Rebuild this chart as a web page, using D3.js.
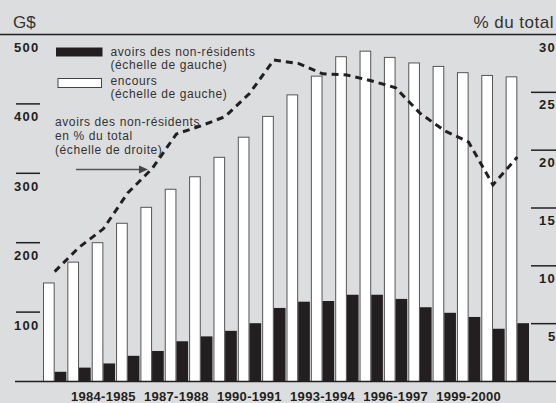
<!DOCTYPE html>
<html>
<head>
<meta charset="utf-8">
<script src="https://cdn.jsdelivr.net/npm/d3@7"></script>
<style>
  body { margin: 0; background: #dcdddf; }
  svg { display: block; font-family: "Liberation Sans", Arial, sans-serif; }
</style>
</head>
<body>
<div id="chart"></div>
<script>
const width = 556
const height = 403

// années financières
const annees = ["1982-1983", "1983-1984", "1984-1985", "1985-1986", "1986-1987", "1987-1988",
    "1988-1989", "1989-1990", "1990-1991", "1991-1992", "1992-1993", "1993-1994", "1994-1995",
    "1995-1996", "1996-1997", "1997-1998", "1998-1999", "1999-2000", "2000-2001", "2001-2002"]

// encours (G$, échelle de gauche)
const encours = [142, 172, 200, 228, 251, 277, 295, 323, 352, 382, 413, 440, 468, 476, 467, 459, 454, 445, 441, 439]

// avoirs des non-résidents (G$, échelle de gauche)
const avoirs = [14, 20, 26, 37, 44, 58, 65, 73, 84, 106, 115, 116, 125, 125, 119, 107, 99, 93, 76, 84]

// avoirs des non-résidents en % du total (échelle de droite)
const pourcentage = [9.5, 11.6, 13.2, 16.3, 18.4, 21.4, 22.1, 22.9, 24.9, 27.8, 27.5, 26.6, 26.5, 26.0, 25.4, 23.2, 21.7, 20.7, 17.0, 19.4]

const ticksGauche = [100, 200, 300, 400, 500]
const ticksDroite = [5, 10, 15, 20, 25, 30]
const etiquettesX = ["1984-1985", "1987-1988", "1990-1991", "1993-1994", "1996-1997", "1999-2000"]

const noir = "#231f20"

const svg = d3.select("#chart").append("svg")
    .attr("width", width)
    .attr("height", height)
    .style("background-color", "#dcdddf")

const x = d3.scaleBand()
    .domain(annees)
    .range([43, 530])
    .padding(0)

const sousX = d3.scaleBand()
    .domain(["encours", "avoirs"])
    .range([0, x.bandwidth() - 1])

const yGauche = d3.scaleLinear().domain([0, 500]).range([381.5, 34.5])
const yDroite = d3.scaleLinear().domain([0, 30]).range([381.5, 34.5])

// en-têtes
svg.append("text")
    .attr("x", 13)
    .attr("y", 28)
    .attr("font-size", 17)
    .attr("fill", "#333")
    .text("G$")

svg.append("text")
    .attr("x", 554)
    .attr("y", 28)
    .attr("text-anchor", "end")
    .attr("font-size", 17)
    .attr("letter-spacing", 0.5)
    .attr("fill", "#333")
    .text("% du total")

// ligne du haut (500 / 30)
svg.append("line")
    .attr("x1", 0).attr("x2", width)
    .attr("y1", yGauche(500)).attr("y2", yGauche(500))
    .attr("stroke", noir)
    .attr("stroke-width", 1.5)

// graduations de gauche
const gauche = svg.append("g").attr("id", "axe-gauche")
gauche.selectAll("line")
    .data(ticksGauche.filter(d => d < 500))
    .join("line")
    .attr("x1", 16).attr("x2", 40)
    .attr("y1", d => yGauche(d)).attr("y2", d => yGauche(d))
    .attr("stroke", noir)
    .attr("stroke-width", 1.5)
gauche.selectAll("text")
    .data(ticksGauche)
    .join("text")
    .attr("x", 14)
    .attr("y", d => yGauche(d) + 17.5)
    .attr("font-size", 13)
    .attr("font-weight", "bold")
    .attr("letter-spacing", 1.3)
    .attr("fill", noir)
    .text(d => d)

// graduations de droite
const droite = svg.append("g").attr("id", "axe-droite")
droite.selectAll("line")
    .data(ticksDroite.filter(d => d < 30))
    .join("line")
    .attr("x1", 531).attr("x2", width)
    .attr("y1", d => yDroite(d)).attr("y2", d => yDroite(d))
    .attr("stroke", noir)
    .attr("stroke-width", 1.5)
droite.selectAll("text")
    .data(ticksDroite)
    .join("text")
    .attr("x", d => d < 10 ? 548 : 539)
    .attr("y", d => yDroite(d) + 17)
    .attr("font-size", 13)
    .attr("font-weight", "bold")
    .attr("letter-spacing", 1.3)
    .attr("fill", noir)
    .text(d => d)

// barres
const donnees = annees.map((a, i) => ({ annee: a, encours: encours[i], avoirs: avoirs[i], pct: pourcentage[i] }))

const barres = svg.append("g").attr("id", "barres")

barres.selectAll(".encours")
    .data(donnees)
    .join("rect")
    .attr("class", "encours")
    .attr("x", d => x(d.annee) + sousX("encours") + 0.5)
    .attr("width", sousX.bandwidth() - 1)
    .attr("y", d => yGauche(d.encours))
    .attr("height", d => yGauche(0) - yGauche(d.encours))
    .attr("fill", "white")
    .attr("stroke", "#555")
    .attr("stroke-width", 1)

barres.selectAll(".avoirs")
    .data(donnees)
    .join("rect")
    .attr("class", "avoirs")
    .attr("x", d => x(d.annee) + sousX("avoirs"))
    .attr("width", sousX.bandwidth())
    .attr("y", d => yGauche(d.avoirs))
    .attr("height", d => yGauche(0) - yGauche(d.avoirs))
    .attr("fill", noir)

// axe du bas
svg.append("line")
    .attr("x1", 15).attr("x2", width)
    .attr("y1", yGauche(0)).attr("y2", yGauche(0))
    .attr("stroke", noir)
    .attr("stroke-width", 1.5)

svg.append("g")
    .selectAll("text")
    .data(etiquettesX)
    .join("text")
    .attr("x", d => x(d) + sousX.step())
    .attr("y", 401)
    .attr("text-anchor", "middle")
    .attr("font-size", 13)
    .attr("font-weight", "bold")
    .attr("letter-spacing", 0.3)
    .attr("fill", noir)
    .text(d => d)

// courbe en pointillé
const ligne = d3.line()
    .x(d => x(d.annee) + sousX.step())
    .y(d => yDroite(d.pct))

svg.append("path")
    .datum(donnees)
    .attr("d", ligne)
    .attr("fill", "none")
    .attr("stroke", noir)
    .attr("stroke-width", 3)
    .attr("stroke-dasharray", "7,5")

// légende
const legende = svg.append("g").attr("id", "legende")
legende.append("rect")
    .attr("x", 56).attr("y", 47.5)
    .attr("width", 46.5).attr("height", 9)
    .attr("fill", noir)
legende.append("rect")
    .attr("x", 58).attr("y", 78.5)
    .attr("width", 43.5).attr("height", 9)
    .attr("fill", "white")
    .attr("stroke", "#444")
    .attr("stroke-width", 1)

const texteLegende = [
    { t: "avoirs des non-résidents", x: 110.5, y: 55.5 },
    { t: "(échelle de gauche)", x: 110.5, y: 69 },
    { t: "encours", x: 110.5, y: 84.5 },
    { t: "(échelle de gauche)", x: 110.5, y: 98 },
    { t: "avoirs des non-résidents", x: 55, y: 125.5 },
    { t: "en % du total", x: 55, y: 140 },
    { t: "(échelle de droite)", x: 55, y: 154 }
]
legende.selectAll("text")
    .data(texteLegende)
    .join("text")
    .attr("x", d => d.x)
    .attr("y", d => d.y)
    .attr("font-size", 12)
    .attr("letter-spacing", 0.6)
    .attr("fill", "#333")
    .text(d => d.t)

// flèche
const fleche = svg.append("g").attr("id", "fleche")
fleche.append("line")
    .attr("x1", 76).attr("x2", 140)
    .attr("y1", 169.5).attr("y2", 169.5)
    .attr("stroke", "#555")
    .attr("stroke-width", 1.5)
fleche.append("path")
    .attr("d", "M139,165.5 L148,169.5 L139,173.5 Z")
    .attr("fill", "#444")
</script>
</body>
</html>
